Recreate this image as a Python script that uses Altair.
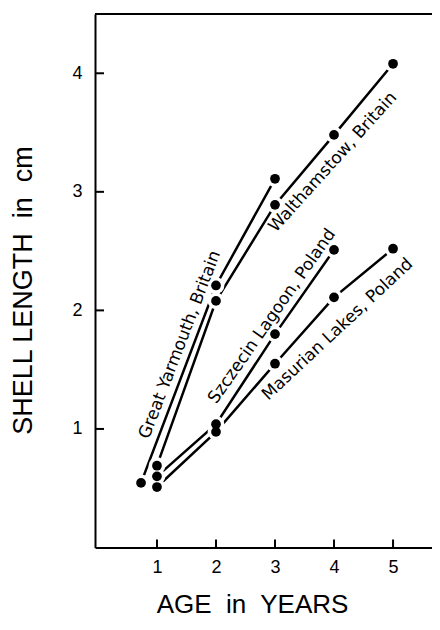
import altair as alt
import pandas as pd

series_names = ["Great Yarmouth, Britain", "Walthamstow, Britain",
                "Szczecin Lagoon, Poland", "Masurian Lakes, Poland"]
gy_age = [0.73, 2, 3]
gy_len = [0.545, 2.21, 3.11]
wa_age = [1, 2, 3, 4, 5]
wa_len = [0.69, 2.08, 2.89, 3.48, 4.08]
sz_age = [1, 2, 3, 4]
sz_len = [0.60, 1.04, 1.80, 2.51]
ma_age = [1, 2, 3, 4, 5]
ma_len = [0.51, 0.975, 1.55, 2.11, 2.52]

label_x = [1.39, 3.98, 2.95, 4.06]
label_y = [1.71, 3.25, 1.95, 1.84]
label_angle = [291, 312, 305, 317]

x_ticks = [1, 2, 3, 4, 5]
y_ticks = [1, 2, 3, 4]
y_top = [4.5]

rows = []
for name, ages, lens in zip(series_names, [gy_age, wa_age, sz_age, ma_age],
                            [gy_len, wa_len, sz_len, ma_len]):
    for a, l in zip(ages, lens):
        rows.append({"series": name, "age": a, "length": l})
df = pd.DataFrame(rows)
labels = pd.DataFrame({"label": series_names, "age": label_x,
                       "length": label_y, "angle": label_angle})
xt = pd.DataFrame({"age": x_ticks})
yt = pd.DataFrame({"length": y_ticks})
top = pd.DataFrame({"length": y_top})

W, H = 337, 533.5
FONT = "Liberation Sans"
xs = alt.Scale(domain=[-0.05, 5.66], nice=False, zero=False)
ys = alt.Scale(domain=[0, 4.5], nice=False, zero=False)

xaxis = alt.Axis(values=x_ticks, ticks=False, grid=False, format="d",
                 domainColor="black", domainWidth=2,
                 labelFont=FONT, labelFontSize=18, labelColor="black", labelPadding=11,
                 title="AGE\u00a0 in\u00a0 YEARS", titleFont=FONT, titleFontSize=26,
                 titleFontWeight="normal", titleColor="black",
                 titleX=157, titleY=57, titleBaseline="middle", titleAlign="center")
yaxis = alt.Axis(values=y_ticks, ticks=False, grid=False, format="d",
                 domainColor="black", domainWidth=2,
                 labelFont=FONT, labelFontSize=18, labelColor="black", labelPadding=13,
                 title="SHELL LENGTH\u00a0 in\u00a0 cm", titleFont=FONT, titleFontSize=27,
                 titleFontWeight="normal", titleColor="black", titleAngle=270,
                 titleX=-72, titleY=276, titleBaseline="middle", titleAlign="center")

X = alt.X("age:Q", scale=xs, axis=xaxis)
Y = alt.Y("length:Q", scale=ys, axis=yaxis)

base = alt.Chart(df)
lines = base.mark_line(color="black", strokeWidth=2.5).encode(
    x=X, y=Y, detail="series:N", order="age:Q")
halo = base.mark_circle(color="white", opacity=1, size=280).encode(x=X, y=Y)
dots = base.mark_circle(color="black", opacity=1, size=95).encode(x=X, y=Y)
text = alt.Chart(labels).mark_text(font="DejaVu Sans", fontSize=17, color="black",
                                   align="center", baseline="middle").encode(
    x=X, y=Y, text="label:N", angle=alt.Angle("angle:Q", scale=None))
xtick = alt.Chart(xt).mark_rule(color="black", strokeWidth=2).encode(
    x=X, y=alt.value(H), y2=alt.value(H - 8))
ytick = alt.Chart(yt).mark_rule(color="black", strokeWidth=2).encode(
    y=Y, x=alt.value(0), x2=alt.value(9))
topline = alt.Chart(top).mark_rule(color="black", strokeWidth=2).encode(y=Y)

chart = alt.layer(topline, xtick, ytick, lines, halo, dots, text).properties(
    width=W, height=H,
    padding={"left": 87, "top": 6, "right": 0, "bottom": 74},
    autosize=alt.AutoSizeParams(type="none"),
).configure_view(stroke=None)

chart.save("out.html", embed_options={"renderer": "svg", "actions": False})
